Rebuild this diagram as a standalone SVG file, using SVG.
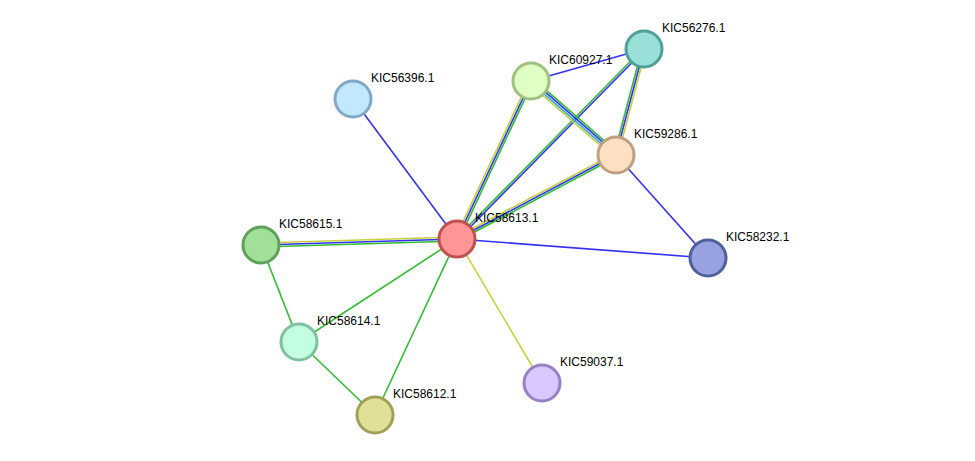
<svg xmlns="http://www.w3.org/2000/svg" width="975" height="461" viewBox="0 0 975 461">
<style>
line{stroke-width:1.6}
.b{stroke:#3333ee}.g{stroke:#33bb33}.y{stroke:#c8d040}.c{stroke:#33aadd}
circle{stroke-width:3}
text{font-family:"Liberation Sans",Arial,sans-serif;font-size:12px;fill:#000}
</style>
<rect width="975" height="461" fill="#fff"/>
<g id="edges">
<line class="y" x1="455.2" y1="238.2" x2="529.2" y2="80.2"/>
<line class="b" x1="457" y1="239" x2="531" y2="81"/>
<line class="g" x1="458.8" y1="239.8" x2="532.8" y2="81.8"/>
<line class="g" x1="456.3" y1="238.3" x2="643.3" y2="48.3"/>
<line class="b" x1="457.7" y1="239.7" x2="644.7" y2="49.7"/>
<line class="y" x1="456.1" y1="237.2" x2="615.1" y2="153.2"/>
<line class="b" x1="457" y1="239" x2="616" y2="155"/>
<line class="g" x1="457.9" y1="240.8" x2="616.9" y2="156.8"/>
<line class="y" x1="529" y1="83.3" x2="614" y2="157.3"/>
<line class="c" x1="530.3" y1="81.8" x2="615.3" y2="155.8"/>
<line class="b" x1="531.7" y1="80.2" x2="616.7" y2="154.2"/>
<line class="g" x1="533" y1="78.7" x2="618" y2="152.7"/>
<line class="g" x1="642.1" y1="48.5" x2="614.1" y2="154.5"/>
<line class="b" x1="644" y1="49" x2="616" y2="155"/>
<line class="y" x1="645.9" y1="49.5" x2="617.9" y2="155.5"/>
<line class="y" x1="261" y1="243" x2="457" y2="237"/>
<line class="b" x1="261" y1="245" x2="457" y2="239"/>
<line class="g" x1="261" y1="247" x2="457" y2="241"/>
<line class="b" x1="531" y1="81" x2="644" y2="49"/>
<line class="b" x1="616" y1="155" x2="708" y2="258"/>
<line class="b" x1="457" y1="239" x2="708" y2="258"/>
<line class="b" x1="457" y1="239" x2="353" y2="99"/>
<line class="y" x1="457" y1="239" x2="542" y2="383"/>
<line class="g" x1="457" y1="239" x2="299" y2="342"/>
<line class="g" x1="457" y1="239" x2="375" y2="415"/>
<line class="g" x1="261" y1="245" x2="299" y2="342"/>
<line class="g" x1="299" y1="342" x2="375" y2="415"/>
</g>
<g id="KIC58613.1"><circle cx="457" cy="239" r="18" fill="#ff9595" stroke="#c05050"/><text x="475" y="222">KIC58613.1</text></g>
<g id="KIC56396.1"><circle cx="353" cy="99" r="18" fill="#c2e8ff" stroke="#80a8c8"/><text x="371" y="82">KIC56396.1</text></g>
<g id="KIC60927.1"><circle cx="531" cy="81" r="18" fill="#e0ffc2" stroke="#a0c080"/><text x="549" y="64">KIC60927.1</text></g>
<g id="KIC56276.1"><circle cx="644" cy="49" r="18" fill="#98e0d8" stroke="#50a098"/><text x="662" y="32">KIC56276.1</text></g>
<g id="KIC59286.1"><circle cx="616" cy="155" r="18" fill="#ffdfc2" stroke="#c0a080"/><text x="634" y="138">KIC59286.1</text></g>
<g id="KIC58232.1"><circle cx="708" cy="258" r="18" fill="#98a2e0" stroke="#50609a"/><text x="726" y="241">KIC58232.1</text></g>
<g id="KIC58615.1"><circle cx="261" cy="245" r="18" fill="#a0e098" stroke="#60a058"/><text x="279" y="228">KIC58615.1</text></g>
<g id="KIC58614.1"><circle cx="299" cy="342" r="18" fill="#c2ffe0" stroke="#80c0a0"/><text x="317" y="325">KIC58614.1</text></g>
<g id="KIC58612.1"><circle cx="375" cy="415" r="18" fill="#e0e098" stroke="#a0a058"/><text x="393" y="398">KIC58612.1</text></g>
<g id="KIC59037.1"><circle cx="542" cy="383" r="18" fill="#d8c8ff" stroke="#9880c8"/><text x="560" y="366">KIC59037.1</text></g>
</svg>
